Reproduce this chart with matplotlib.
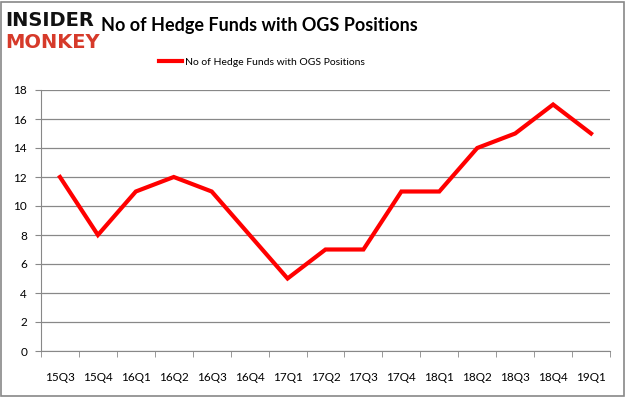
import matplotlib
matplotlib.use("Agg")
import matplotlib.pyplot as plt
from matplotlib.patches import Rectangle

quarters = ["15Q3", "15Q4", "16Q1", "16Q2", "16Q3", "16Q4", "17Q1", "17Q2",
            "17Q3", "17Q4", "18Q1", "18Q2", "18Q3", "18Q4", "19Q1"]
funds = [12, 8, 11, 12, 11, 8, 5, 7, 7, 11, 11, 14, 15, 17, 15]
yticks = [0, 2, 4, 6, 8, 10, 12, 14, 16, 18]
series_name = "No of Hedge Funds with OGS Positions"
title = "No of Hedge Funds with OGS Positions"

fig = plt.figure(figsize=(6.26, 3.97), dpi=100)
fig.patches.append(Rectangle((0.002, 0.003), 0.995, 0.993, transform=fig.transFigure,
                             fill=False, edgecolor="#888888", linewidth=1.2))

ax = fig.add_axes([41/626, 1-351/397, (610-41)/626, (351-90)/397])
x = list(range(len(quarters)))
line, = ax.plot(x, funds, color="#ff0000", linewidth=3, solid_joinstyle="miter")
ax.set_xlim(-0.5, len(quarters)-0.5)
ax.set_ylim(0, 18)
ax.set_yticks(yticks)
ax.set_yticklabels([str(v) for v in yticks], fontsize=8.5, family="Lato")
ax.set_xticks(x)
ax.set_xticklabels(quarters, fontsize=8.5, family="Lato")
ax.set_xticks([i - 0.5 for i in range(len(quarters)+1)], minor=True)
ax.tick_params(axis="x", which="major", length=0, pad=15)
ax.tick_params(axis="x", which="minor", length=4, color="#888888")
ax.tick_params(axis="y", length=4, color="#888888", pad=6)
ax.grid(axis="y", color="#888888", linewidth=0.9)
ax.set_axisbelow(True)
for s in ["top", "right"]:
    ax.spines[s].set_visible(False)
for s in ["left", "bottom"]:
    ax.spines[s].set_color("#888888")

fig.text(101/626, 1-26/397, title, fontsize=13, fontweight="bold", va="center", ha="left",
         family="Lato")
fig.text(5/626, 1-20/397, "INSIDER", fontsize=14, fontweight="heavy", color="#111111",
         va="center", ha="left", family="DejaVu Sans")
fig.text(5/626, 1-42/397, "MONKEY", fontsize=14, fontweight="heavy", color="#d63a2a",
         va="center", ha="left", family="DejaVu Sans")

fig.legend([line], [series_name], loc="center", bbox_to_anchor=(262/626, 1-62/397),
           frameon=False, prop={"family": "Lato", "size": 7.5},
           handlelength=2.2, handletextpad=0.3)

fig.savefig("out.png", dpi=100)
